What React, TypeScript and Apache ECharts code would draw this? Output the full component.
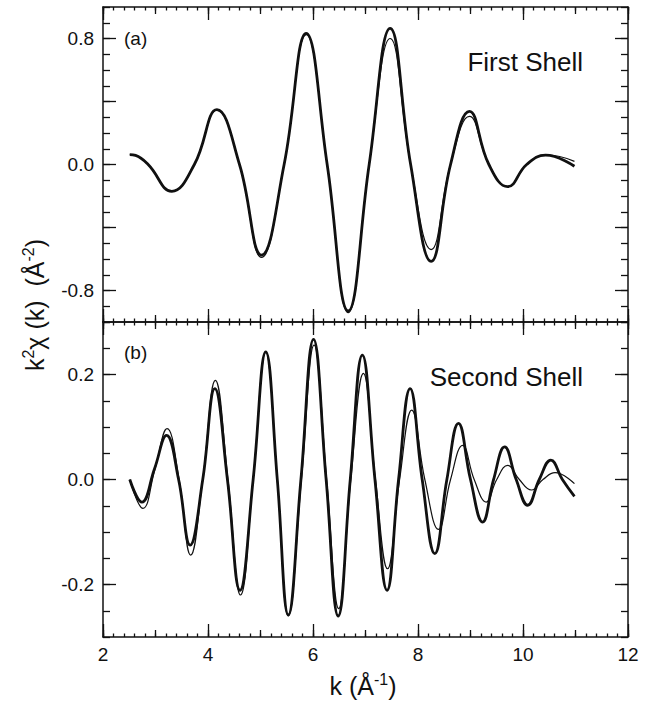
import React, { useEffect, useRef } from "react";
import * as echarts from "echarts";

// ---- data ----
// (a) First shell: experiment (thick) and fit (thin), [k, k^2 chi(k)]
const topExp: [number, number][] = [
  [2.51, 0.063], [2.62, 0.058], [2.86, 0.0], [3.31, -0.17], [3.74, 0.0], [4.17, 0.348],
  [4.6, 0.0], [5.02, -0.575], [5.45, 0.0], [5.87, 0.833], [6.27, 0.0], [6.67, -0.93],
  [7.07, 0.0], [7.47, 0.864], [7.86, 0.0], [8.25, -0.615], [8.62, 0.0], [8.98, 0.337],
  [9.35, 0.0], [9.71, -0.141], [10.07, 0.0], [10.43, 0.059], [10.98, -0.011],
];
const topFit: [number, number][] = [
  [2.51, 0.063], [2.62, 0.058], [2.86, 0.0], [3.31, -0.17], [3.74, 0.0], [4.17, 0.345],
  [4.6, 0.0], [5.02, -0.59], [5.45, 0.0], [5.87, 0.825], [6.27, 0.0], [6.67, -0.94],
  [7.07, 0.0], [7.47, 0.8], [7.86, 0.0], [8.25, -0.54], [8.62, 0.0], [8.98, 0.305],
  [9.35, 0.0], [9.71, -0.141], [10.07, 0.0], [10.45, 0.062], [10.98, 0.02],
];
// (b) Second shell
const botExp: [number, number][] = [
  [2.51, 0.0], [2.74, -0.043], [2.98, 0.02], [3.21, 0.084], [3.44, 0.0], [3.66, -0.125],
  [3.9, 0.0], [4.13, 0.173], [4.37, 0.0], [4.61, -0.211], [4.86, 0.0], [5.1, 0.243],
  [5.32, 0.0], [5.53, -0.258], [5.77, 0.0], [6.01, 0.267], [6.25, 0.0], [6.48, -0.26],
  [6.71, 0.0], [6.94, 0.237], [7.18, 0.0], [7.41, -0.211], [7.63, 0.0], [7.85, 0.173],
  [8.08, 0.0], [8.32, -0.141], [8.55, 0.0], [8.77, 0.107], [9.0, 0.0], [9.23, -0.081],
  [9.44, 0.0], [9.65, 0.062], [9.87, 0.0], [10.09, -0.049], [10.31, 0.0], [10.53, 0.037],
  [10.75, 0.0], [10.98, -0.032],
];
const botFit: [number, number][] = [
  [2.51, 0.0], [2.76, -0.055], [2.99, 0.02], [3.22, 0.097], [3.45, 0.0], [3.67, -0.144],
  [3.9, 0.0], [4.14, 0.189], [4.38, 0.0], [4.62, -0.22], [4.86, 0.0], [5.1, 0.243],
  [5.32, 0.0], [5.53, -0.26], [5.78, 0.0], [6.02, 0.256], [6.26, 0.0], [6.49, -0.246],
  [6.72, 0.0], [6.96, 0.202], [7.19, 0.0], [7.42, -0.17], [7.65, 0.0], [7.88, 0.132],
  [8.13, 0.0], [8.39, -0.095], [8.62, 0.0], [8.85, 0.065], [9.07, 0.0], [9.3, -0.043],
  [9.5, 0.0], [9.71, 0.027], [9.93, 0.0], [10.16, -0.02], [10.38, 0.0], [10.61, 0.013],
  [10.98, -0.008],
];

const xRange = [2, 12];
const xLabelStep = 2;
const topRange = [-1, 1];
const topLabels = [-0.8, 0, 0.8];
const topMajorTicks = [-0.8, -0.4, 0, 0.4, 0.8];
const topMinorStep = 0.1;
const botRange = [-0.3, 0.3];
const botLabels = [-0.2, 0, 0.2];
const botMinorStep = 0.05;

const FONT = "'Liberation Sans', Arial, Helvetica, sans-serif";
const INK = "#111";

export default function App() {
  const ref = useRef<HTMLDivElement>(null);
  useEffect(() => {
    document.body.style.margin = "0";
    if (!ref.current) return;
    const chart = echarts.init(ref.current, undefined, { renderer: "svg" });

    const mkX = (grid: number, position: "top" | "bottom", interval: number, len: number, line: boolean, labels: boolean) => ({
      type: "value",
      gridIndex: grid,
      position,
      min: xRange[0],
      max: xRange[1],
      interval,
      axisLine: { show: line, onZero: false, lineStyle: { color: INK, width: 1.5 } },
      axisTick: { show: true, inside: true, length: len, lineStyle: { color: INK, width: 1.3 } },
      axisLabel: labels
        ? { show: true, color: INK, fontSize: 19, fontFamily: FONT, margin: 8 }
        : { show: false },
      splitLine: { show: false },
    });
    const xAxes: any[] = [];
    for (const g of [0, 1]) {
      xAxes.push(mkX(g, "bottom", xLabelStep, 13, true, g === 1));
      xAxes.push(mkX(g, "bottom", 1, 7, false, false));
      xAxes.push(mkX(g, "bottom", 0.2, 3.5, false, false));
      xAxes.push(mkX(g, "top", xLabelStep, 13, true, false));
      xAxes.push(mkX(g, "top", 1, 7, false, false));
      xAxes.push(mkX(g, "top", 0.2, 3.5, false, false));
    }

    const mkYMajor = (grid: number, position: "left" | "right", range: number[], ticks: number[], labels: number[] | null) => ({
      type: "value",
      gridIndex: grid,
      position,
      min: range[0],
      max: range[1],
      axisLine: { show: true, onZero: false, lineStyle: { color: INK, width: 1.5 } },
      axisTick: { show: true, inside: true, length: 13, customValues: ticks, lineStyle: { color: INK, width: 1.3 } },
      axisLabel: labels
        ? { show: true, customValues: labels, color: INK, fontSize: 19, fontFamily: FONT, margin: 9, formatter: (v: number) => v.toFixed(1) }
        : { show: false },
      splitLine: { show: false },
    });
    const mkYMinor = (grid: number, position: "left" | "right", range: number[], step: number) => ({
      type: "value",
      gridIndex: grid,
      position,
      min: range[0],
      max: range[1],
      interval: step,
      axisLine: { show: false },
      axisTick: { show: true, inside: true, length: 7, lineStyle: { color: INK, width: 1.3 } },
      axisLabel: { show: false },
      splitLine: { show: false },
    });
    const yAxes: any[] = [
      mkYMajor(0, "left", topRange, topMajorTicks, topLabels),
      mkYMinor(0, "left", topRange, topMinorStep),
      mkYMajor(0, "right", topRange, topMajorTicks, null),
      mkYMinor(0, "right", topRange, topMinorStep),
      mkYMajor(1, "left", botRange, botLabels, botLabels),
      mkYMinor(1, "left", botRange, botMinorStep),
      mkYMajor(1, "right", botRange, botLabels, null),
      mkYMinor(1, "right", botRange, botMinorStep),
    ];

    const line = (data: [number, number][], xi: number, yi: number, w: number) => ({
      type: "line",
      xAxisIndex: xi,
      yAxisIndex: yi,
      data,
      smooth: 0.45,
      symbol: "none",
      lineStyle: { color: INK, width: w },
      z: w > 2 ? 3 : 4,
    });

    chart.setOption({
      animation: false,
      backgroundColor: "#fff",
      grid: [
        { left: 103, top: 7, width: 525, height: 315 },
        { left: 103, top: 322, width: 525, height: 315 },
      ],
      xAxis: xAxes,
      yAxis: yAxes,
      series: [
        line(topExp, 0, 0, 2.8),
        line(topFit, 0, 0, 1.2),
        line(botExp, 6, 4, 2.8),
        line(botFit, 6, 4, 1.2),
      ],
      graphic: [
        { type: "text", x: 124, y: 38, style: { text: "(a)", fontSize: 19, fontFamily: FONT, fill: INK, textAlign: "left", textVerticalAlign: "middle", verticalAlign: "middle" } },
        { type: "text", x: 583, y: 62, style: { text: "First Shell", fontSize: 26, fontFamily: FONT, fill: INK, textAlign: "right", verticalAlign: "middle" } },
        { type: "text", x: 124, y: 352, style: { text: "(b)", fontSize: 19, fontFamily: FONT, fill: INK, textAlign: "left", verticalAlign: "middle" } },
        { type: "text", x: 583, y: 377, style: { text: "Second Shell", fontSize: 26, fontFamily: FONT, fill: INK, textAlign: "right", verticalAlign: "middle" } },
        {
          type: "text", x: 35, y: 305, rotation: Math.PI / 2,
          style: {
            text: "{a|k}{s|2}{a|χ (k)  (Å}{s|-2}{a|)}",
            textAlign: "center", verticalAlign: "middle", fill: INK,
            rich: {
              a: { fontSize: 25, fontFamily: FONT, fill: INK, lineHeight: 30 },
              s: { fontSize: 16, fontFamily: FONT, fill: INK, verticalAlign: "top", lineHeight: 30 },
            },
          },
        },
        {
          type: "text", x: 363, y: 686,
          style: {
            text: "{a|k (Å}{s|-1}{a|)}",
            textAlign: "center", verticalAlign: "middle", fill: INK,
            rich: {
              a: { fontSize: 25, fontFamily: FONT, fill: INK, lineHeight: 30 },
              s: { fontSize: 16, fontFamily: FONT, fill: INK, verticalAlign: "top", lineHeight: 30 },
            },
          },
        },
      ],
    });
    return () => chart.dispose();
  }, []);
  return <div ref={ref} style={{ width: 654, height: 705 }} />;
}
